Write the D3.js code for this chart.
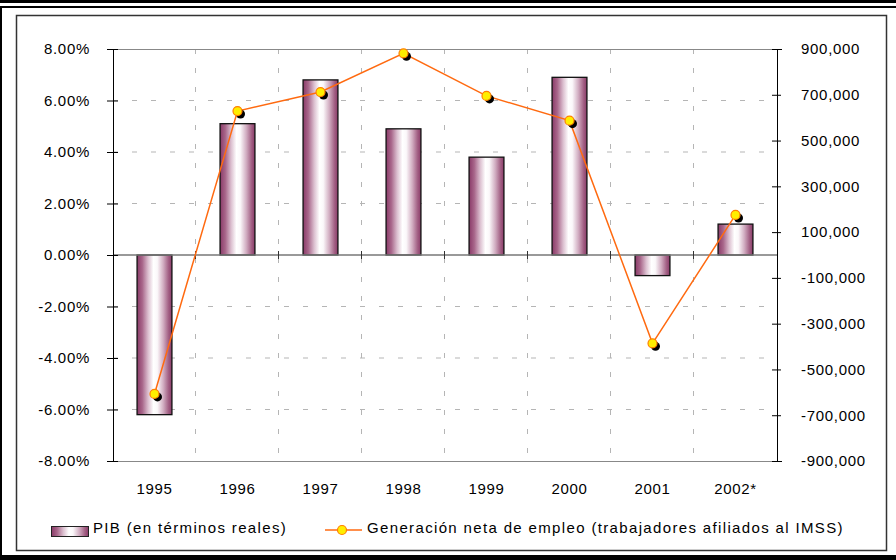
<!DOCTYPE html>
<html>
<head>
<meta charset="utf-8">
<script src="https://cdn.jsdelivr.net/npm/d3@7"></script>
<style>
  body { margin: 0; background: #fff; }
  text { font-family: "Liberation Sans", Arial, sans-serif; font-size: 15px; fill: #000; letter-spacing: 0.7px; }
  .legend text { letter-spacing: 1.35px; }
</style>
</head>
<body>
<svg id="chart" width="896" height="560"></svg>
<script>
const years = ["1995", "1996", "1997", "1998", "1999", "2000", "2001", "2002*"];
const pib = [-6.2, 5.1, 6.8, 4.9, 3.8, 6.9, -0.8, 1.2];
const empleo = [-607000, 629000, 712000, 881000, 695000, 587000, -386000, 175000];
const pctTicks = [-8, -6, -4, -2, 0, 2, 4, 6, 8];
const empTicks = [-900000, -700000, -500000, -300000, -100000, 100000, 300000, 500000, 700000, 900000];

const plot = { left: 113, right: 777, top: 49, bottom: 461 };

const svg = d3.select("#chart");

// frame
svg.append("rect").attr("x", 0).attr("y", 0).attr("width", 896).attr("height", 3).attr("fill", "#000");
svg.append("rect").attr("x", 0).attr("y", 6).attr("width", 896).attr("height", 2).attr("fill", "#000");
svg.append("rect").attr("x", 0).attr("y", 6).attr("width", 2).attr("height", 554).attr("fill", "#000");
svg.append("rect").attr("x", 0).attr("y", 555).attr("width", 896).attr("height", 5).attr("fill", "#000");
svg.append("rect").attr("x", 16.5).attr("y", 15.5).attr("width", 870).attr("height", 535)
    .attr("fill", "none").attr("stroke", "#333").attr("stroke-width", 1.5);

// gradient for bars
const defs = svg.append("defs");
const grad = defs.append("linearGradient").attr("id", "barGrad")
    .attr("x1", "0%").attr("x2", "100%").attr("y1", "0%").attr("y2", "0%");
[[0, "#8a3a68"], [0.15, "#a8668a"], [0.32, "#dcc0d0"], [0.47, "#ffffff"], [0.58, "#fbf8fa"],
 [0.75, "#d2aec2"], [0.9, "#a36185"], [1, "#8a3a68"]].forEach(function (s) {
    grad.append("stop").attr("offset", s[0]).attr("stop-color", s[1]);
});

// scales
const x = d3.scaleBand().domain(years).range([plot.left, plot.right]).paddingInner(0).paddingOuter(0);
const yL = d3.scaleLinear().domain([-8, 8]).range([plot.bottom, plot.top]);
const yR = d3.scaleLinear().domain([-900000, 900000]).range([plot.bottom, plot.top]);

// gridlines
const grid = svg.append("g");
pctTicks.filter(d => d !== 0 && Math.abs(d) !== 8).forEach(function (d) {
    grid.append("line").attr("x1", plot.left).attr("x2", plot.right)
        .attr("y1", yL(d)).attr("y2", yL(d))
        .attr("stroke", "#b5b5b5").attr("stroke-dasharray", "5,14");
});
years.slice(1).forEach(function (d) {
    grid.append("line").attr("x1", x(d) - 0.5).attr("x2", x(d) - 0.5)
        .attr("y1", plot.top).attr("y2", plot.bottom)
        .attr("stroke", "#b5b5b5").attr("stroke-dasharray", "5,14");
});
grid.append("line").attr("x1", plot.left).attr("x2", plot.right)
    .attr("y1", plot.top + 0.5).attr("y2", plot.top + 0.5).attr("stroke", "#888").attr("stroke-width", 1.2);
grid.append("line").attr("x1", plot.left).attr("x2", plot.right)
    .attr("y1", plot.bottom + 0.5).attr("y2", plot.bottom + 0.5).attr("stroke", "#888").attr("stroke-width", 1.2);

// bars
const bw = x.bandwidth() * 0.42;
svg.append("g").selectAll("rect").data(pib).enter().append("rect")
    .attr("x", (d, i) => x(years[i]) + (x.bandwidth() - bw) / 2)
    .attr("y", d => yL(Math.max(0, d)))
    .attr("width", bw)
    .attr("height", d => Math.abs(yL(d) - yL(0)))
    .attr("fill", "url(#barGrad)")
    .attr("stroke", "#111").attr("stroke-width", 1.3);

// zero line with category ticks
svg.append("line").attr("x1", plot.left).attr("x2", plot.right)
    .attr("y1", yL(0)).attr("y2", yL(0)).attr("stroke", "#777").attr("stroke-width", 1.5);
years.slice(1).forEach(function (d) {
    svg.append("line").attr("x1", x(d) - 0.5).attr("x2", x(d) - 0.5)
        .attr("y1", yL(0) - 4).attr("y2", yL(0) + 4).attr("stroke", "#333");
});

// left axis
const axL = svg.append("g").attr("transform", "translate(" + plot.left + ",0)")
    .call(d3.axisLeft(yL).tickValues(pctTicks).tickSize(6).tickPadding(17)
        .tickFormat(d => d3.format(".2f")(d) + "%"));
axL.select(".domain").attr("stroke", "#000");
axL.selectAll(".tick line").attr("x2", 5).attr("x1", -6).attr("stroke", "#000");
axL.selectAll("text").attr("font-size", null).attr("font-family", null)
    .text(d => d3.format(".2f")(d).replace("−", "-") + "%");
axL.attr("font-size", null).attr("font-family", null);

// right axis
const axR = svg.append("g").attr("transform", "translate(" + plot.right + ",0)")
    .call(d3.axisRight(yR).tickValues(empTicks).tickSize(5).tickPadding(19)
        .tickFormat(d3.format(",")));
axR.select(".domain").attr("stroke", "#000");
axR.selectAll(".tick line").attr("x1", -5).attr("x2", 4).attr("stroke", "#000");
axR.selectAll("text").attr("font-size", null).attr("font-family", null)
    .text(d => d3.format(",")(d).replace("−", "-"));
axR.attr("font-size", null).attr("font-family", null);

// x labels
svg.append("g").selectAll("text").data(years).enter().append("text")
    .attr("x", d => x(d) + x.bandwidth() / 2)
    .attr("y", 494)
    .attr("text-anchor", "middle")
    .text(d => d);

// line
const cx = (d, i) => x(years[i]) + x.bandwidth() / 2;
const line = d3.line().x(cx).y(d => yR(d));
svg.append("path").datum(empleo).attr("d", line)
    .attr("fill", "none").attr("stroke", "#ff6a10").attr("stroke-width", 1.5);
svg.append("g").selectAll("circle").data(empleo).enter().append("circle")
    .attr("cx", (d, i) => cx(d, i) + 3).attr("cy", d => yR(d) + 3).attr("r", 4.5)
    .attr("fill", "#000");
svg.append("g").selectAll("circle").data(empleo).enter().append("circle")
    .attr("cx", cx).attr("cy", d => yR(d)).attr("r", 4.5)
    .attr("fill", "#ffee00").attr("stroke", "#ff8000").attr("stroke-width", 1.2);

// legend
const lg = svg.append("g").attr("class", "legend");
lg.append("rect").attr("x", 51.5).attr("y", 526.5).attr("width", 37).attr("height", 10)
    .attr("fill", "url(#barGrad)").attr("stroke", "#222");
lg.append("text").attr("x", 93).attr("y", 533)
    .text("PIB (en términos reales)");
lg.append("line").attr("x1", 325).attr("x2", 362).attr("y1", 530).attr("y2", 530)
    .attr("stroke", "#ff6a10").attr("stroke-width", 1.5);
lg.append("circle").attr("cx", 342).attr("cy", 530).attr("r", 4.5)
    .attr("fill", "#ffee00").attr("stroke", "#ff8000").attr("stroke-width", 1.2);
lg.append("text").attr("x", 367).attr("y", 533)
    .text("Generación neta de empleo (trabajadores afiliados al IMSS)");
</script>
</body>
</html>
